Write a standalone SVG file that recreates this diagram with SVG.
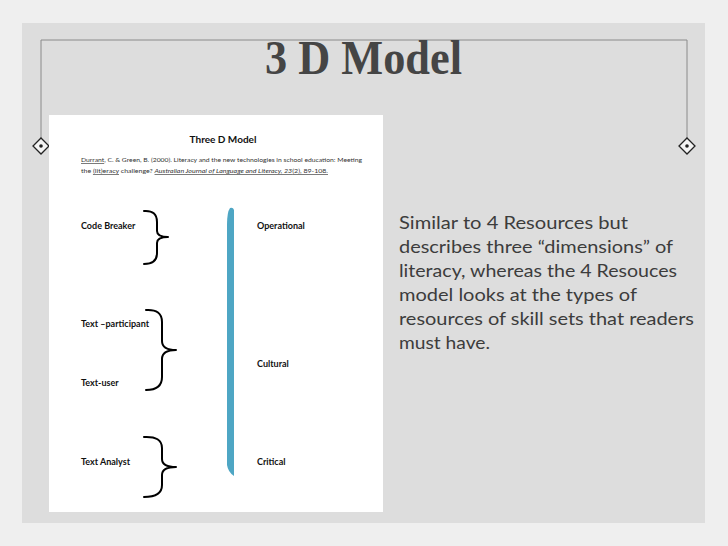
<svg xmlns="http://www.w3.org/2000/svg" width="728" height="546" viewBox="0 0 728 546">
<style>
.doc{font-family:Lato,"Liberation Sans",sans-serif;fill:#111}
.b{font-weight:bold;font-size:9px}
.cite{font-size:6.5px;fill:#333}
.para{font-family:Lato,"Liberation Sans",sans-serif;font-size:17px;fill:#3c3c3c}
.brace{fill:none;stroke:#000;stroke-width:2;stroke-linecap:round;stroke-linejoin:round}
.frame{fill:none;stroke:#8a8a8a;stroke-width:1}
.dia{fill:#f4f4f4;stroke:#222;stroke-width:1.3}
</style>
<rect x="0" y="0" width="728" height="546" fill="#efefef"/>
<rect x="22" y="23" width="683" height="500" fill="#dddddd"/>
<g id="frame">
<path class="frame" d="M41,138 V40 H687 V138"/>
<g id="diamond-left">
<path class="dia" d="M41,138 L49,146 L41,154 L33,146 Z"/>
<circle cx="41" cy="146" r="1.8" fill="#222"/>
</g>
<g id="diamond-right">
<path class="dia" d="M687,138 L695,146 L687,154 L679,146 Z"/>
<circle cx="687" cy="146" r="1.8" fill="#222"/>
</g>
</g>
<g id="title">
<text x="265" y="74" textLength="197" lengthAdjust="spacingAndGlyphs" font-family="'Liberation Serif',serif" font-weight="bold" font-size="49" fill="#454545">3 D Model</text>
</g>
<g id="document">
<rect x="49" y="115" width="334" height="397" fill="#ffffff"/>
<text class="doc" x="223" y="143" text-anchor="middle" font-weight="bold" font-size="10">Three D Model</text>
<text class="doc cite" x="81" y="162" textLength="281" lengthAdjust="spacingAndGlyphs"><tspan text-decoration="underline">Durrant</tspan>, C. &amp; Green, B. (2000). Literacy and the new technologies in school education: Meeting</text>
<text class="doc cite" x="81" y="173" textLength="247" lengthAdjust="spacingAndGlyphs">the <tspan text-decoration="underline">(lit)eracy</tspan> challenge? <tspan font-style="italic" text-decoration="underline">Australian Journal of Language and Literacy, 23</tspan><tspan text-decoration="underline">(2), 89-108.</tspan></text>
<g id="node-code-breaker"><text class="doc b" x="81" y="229">Code Breaker</text></g>
<g id="node-text-participant"><text class="doc b" x="81" y="327">Text –participant</text></g>
<g id="node-text-user"><text class="doc b" x="81" y="386">Text-user</text></g>
<g id="node-text-analyst"><text class="doc b" x="81" y="465">Text Analyst</text></g>
<g id="node-operational"><text class="doc b" x="257" y="229">Operational</text></g>
<g id="node-cultural"><text class="doc b" x="257" y="367">Cultural</text></g>
<g id="node-critical"><text class="doc b" x="257" y="465">Critical</text></g>
<g id="connectors">
<path class="brace" d="M144,211 Q157,210 157,222 L157,231 Q157,237 168,237 Q157,237 157,243 L157,253 Q157,264 144,264"/>
<path class="brace" d="M146,310 Q162,309 162,322 L162,341 Q162,350 176,350 Q162,350 162,359 L162,377 Q162,390 146,390"/>
<path class="brace" d="M144,437 Q162,436 162,448 L162,459 Q162,467 176,467 Q162,467 162,475 L162,485 Q162,497 144,497"/>
<path d="M230,208 Q227,212 227,225 L227,465 Q228,472 234,476 L234,210 Q233,207 230,208 Z" fill="#4ea6c4"/>
</g>
</g>
<g id="description">
<text class="para" x="399" y="229" textLength="229" lengthAdjust="spacingAndGlyphs">Similar to 4 Resources but</text>
<text class="para" x="399" y="253" textLength="274" lengthAdjust="spacingAndGlyphs">describes three “dimensions” of</text>
<text class="para" x="399" y="277" textLength="278" lengthAdjust="spacingAndGlyphs">literacy, whereas the 4 Resouces</text>
<text class="para" x="399" y="301" textLength="238" lengthAdjust="spacingAndGlyphs">model looks at the types of</text>
<text class="para" x="399" y="325" textLength="295" lengthAdjust="spacingAndGlyphs">resources of skill sets that readers</text>
<text class="para" x="399" y="349" textLength="91" lengthAdjust="spacingAndGlyphs">must have.</text>
</g>
</svg>
